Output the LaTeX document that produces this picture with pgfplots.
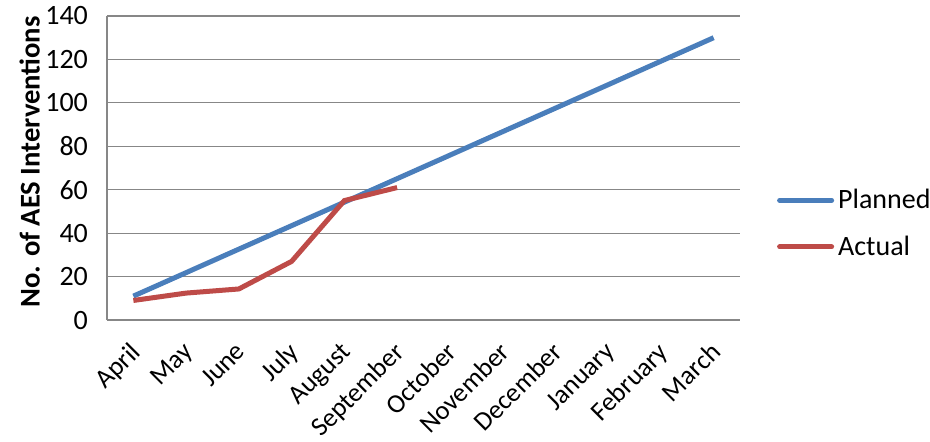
\documentclass[border=0pt]{standalone}
\usepackage{pgfplots}
\pgfplotsset{compat=1.18}
\usepackage{fontspec}
\setmainfont{Carlito}

\definecolor{planned}{HTML}{4A7EBB}
\definecolor{actual}{HTML}{BE4B48}
\definecolor{gridgray}{HTML}{878787}

\begin{document}
\begin{tikzpicture}
\useasboundingbox (-53.5pt,-60.5pt) rectangle (411.5pt,160pt);
\begin{axis}[
  scale only axis,
  width=316.5pt, height=152pt,
  xmin=-0.5, xmax=11.5,
  ymin=0, ymax=140,
  ytick={0,20,...,140},
  xtick={0,...,11},
  xticklabels={April,May,June,July,August,September,October,November,December,January,February,March},
  axis x line*=bottom, axis y line*=left,
  axis line style={gridgray, line width=0.6pt, -},
  ymajorgrids, grid style={gridgray, line width=0.6pt},
  major tick length=0pt,
  tick label style={font=\fontsize{14}{16}\selectfont},
  /pgf/number format/assume math mode=true,
  yticklabel style={xshift=-6pt},
  xticklabel style={font=\fontsize{13.3}{15}\selectfont, anchor=north east, xshift=-2.3pt, yshift=-5.4pt, rotate=45},
  ylabel={No. of AES Interventions},
  ylabel style={font=\fontsize{14.3}{16}\selectfont\bfseries, at={(axis description cs:-0.122,0.52)}, anchor=center},
  legend style={draw=none, fill=none, at={(1.058,0.317)}, anchor=west,
    font=\fontsize{14}{16}\selectfont, row sep=8pt, inner sep=0pt,
    legend cell align=left},
  legend image code/.code={\draw[#1, line cap=round] (0pt,0pt) -- (26pt,0pt);},
]
\addplot[planned, line width=2.5pt] coordinates {
  (0,11) (1,21.82) (2,32.64) (3,43.45) (4,54.27) (5,65.09) (6,75.91) (7,86.73) (8,97.55) (9,108.36) (10,119.18) (11,130)};
\addlegendentry{Planned}
\addplot[actual, line width=2.5pt] coordinates {
  (0,9) (1,12.4) (2,14.3) (3,27) (4,55) (5,61)};
\addlegendentry{Actual}
\end{axis}
\end{tikzpicture}
\end{document}
